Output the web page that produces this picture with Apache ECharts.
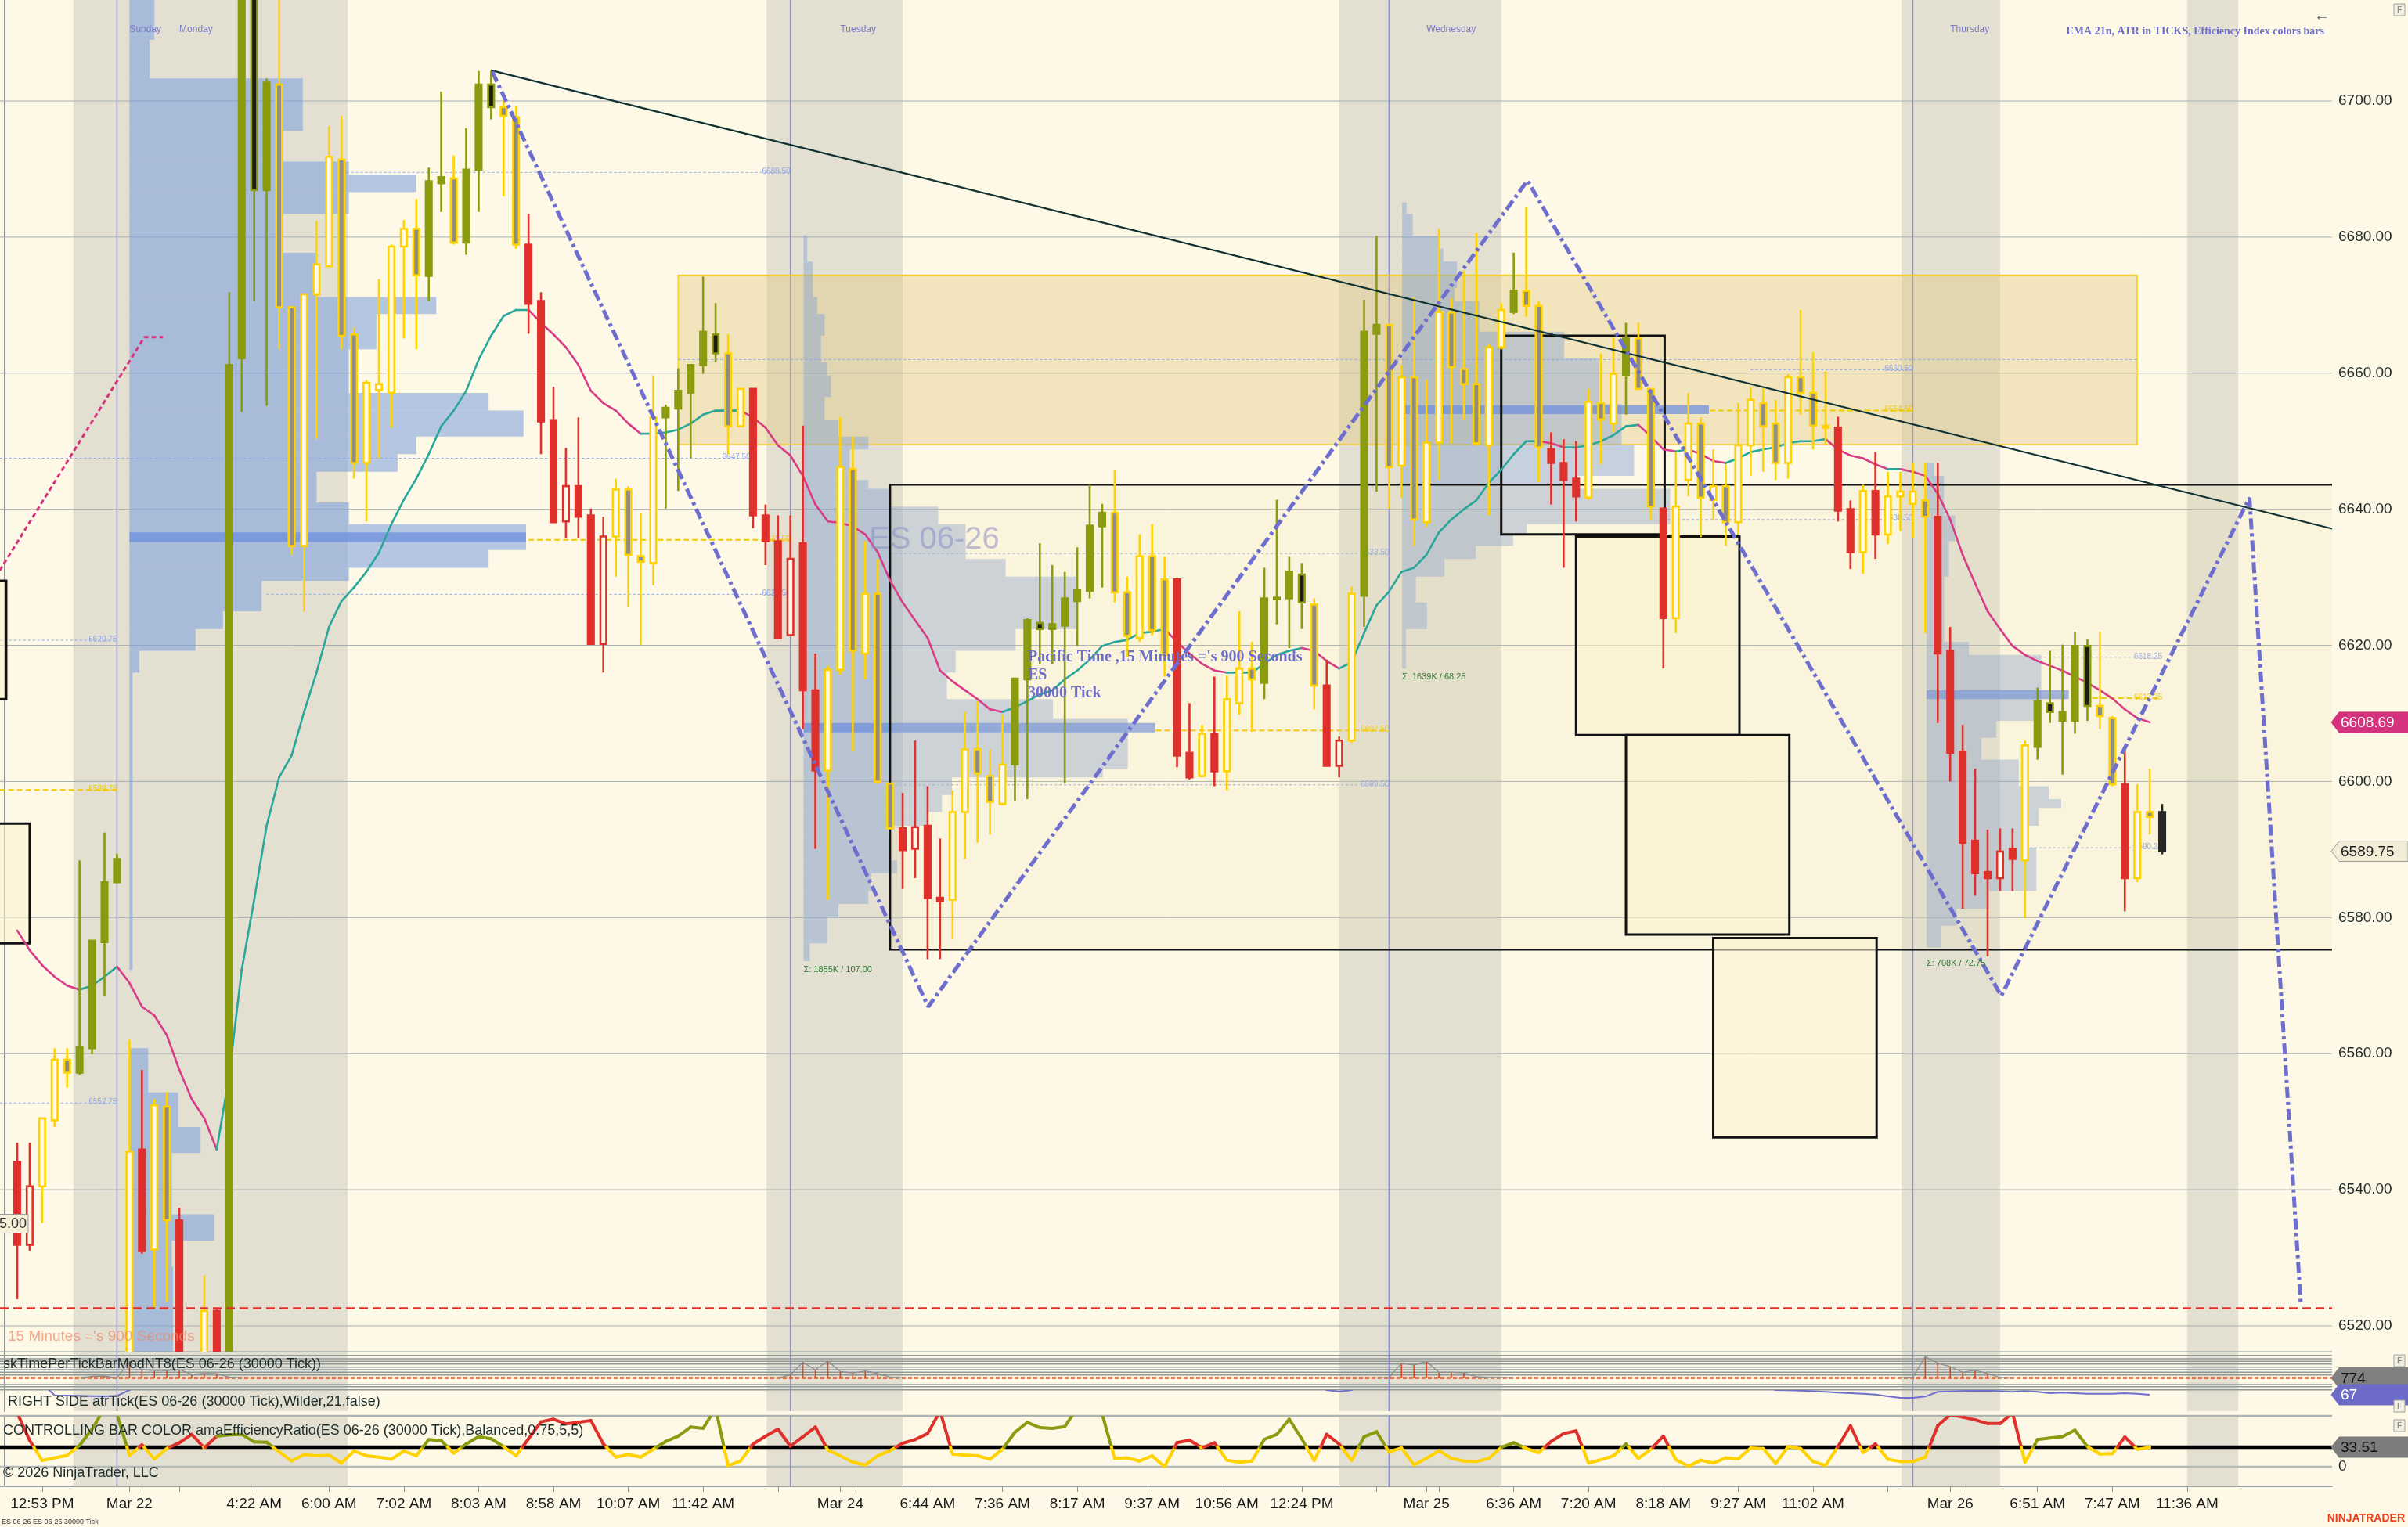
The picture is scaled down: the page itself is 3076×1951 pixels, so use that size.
<!DOCTYPE html>
<html>
<head>
<meta charset="utf-8">
<title>ES 06-26 30000 Tick</title>
<script src="https://cdn.jsdelivr.net/npm/echarts@6.0.0/dist/echarts.min.js"></script>
<style>
html,body{margin:0;padding:0;background:#FEF8E6;overflow:hidden}
#chart{width:3076px;height:1951px}
</style>
</head>
<body>
<div id="chart"></div>
<script>
// ================= DATA =================
const firstSlot = 1;
const barCodes = ("RRYYYGGGGY"+"RYYRRYRGGG"+"GYYYYYYYYY"+"YYYGGYGGGY"+"YRRRRRRRYY"+
  "YYGGGGGYYR"+"RRRRRYYYYY"+"YRRRRYYYYY"+"GGGGGGGGYY"+"YYYRRYRYYY"+
  "GGGGYRRYGG"+"YYYYYYYYYY"+"GYYRRRYYYG"+"YYRYYYYYYY"+"YYYYYYRRYR"+
  "YYYYRRRRRR"+"RYGGGGGYYR"+"YYK").split('');

const opens = [
6544.1,6531.9,6540.5,6550.2,6559.1,6557.2,6560.8,6576.4,6585.2,6512,
6545.9,6531.2,6552.2,6535.5,6512,6508,6522.2,6505,6662.2,6728,
6686.9,6702.4,6669.7,6634.6,6671.6,6675.7,6691.4,6665.7,6646.8,6657.5,
6657.1,6678.6,6681.2,6674.3,6687.9,6688.6,6679.2,6689.9,6702.4,6699.1,
6697.6,6678.9,6670.6,6653.1,6638.2,6643.4,6639.1,6620.2,6636.0,6642.9,
6633.1,6632.1,6653.5,6654.8,6657.1,6661.2,6665.7,6662.9,6652.2,6657.7,
6639.1,6635.3,6621.5,6635.0,6613.4,6601.6,6616.4,6645.9,6618.8,6627.6,
6599.7,6593.1,6590.1,6593.5,6582.9,6582.6,6595.5,6604.7,6600.8,6596.7,
6602.5,6615.0,6623.3,6622.4,6622.9,6626.5,6628.0,6637.5,6639.5,6627.8,
6621.1,6633.1,6629.7,6629.7,6604.2,6600.8,6607.0,6601.5,6611.5,6616.6,
6614.5,6626.8,6626.9,6630.4,6626.0,6614.1,6602.3,6606.0,6627.3,6665.8,
6667.1,6646.4,6659.4,6638.1,6649.8,6668.9,6660.6,6658.4,6649.4,6663.8,
6669.0,6672.1,6669.9,6648.8,6646.8,6644.5,6641.7,6655.6,6652.6,6659.7,
6665.1,6657.7,6640.1,6624.0,6644.3,6652.6,6641.4,6643.4,6638.1,6649.4,
6655.6,6652.6,6646.8,6659.4,6657.1,6652.3,6652.0,6640.0,6633.7,6642.7,
6636.3,6641.9,6640.8,6641.3,6638.9,6619.2,6604.4,6591.3,6586.7,6585.8,
6590.1,6588.4,6605.1,6611.5,6608.9,6608.9,6619.9,6611.1,6609.3,6599.6,
6585.8,6595.5,6595.5];
const highs = [
6546.9,6546.9,6550.5,6560.8,6560.8,6588.4,6576.6,6592.5,6589.4,6562.0,
6557.6,6553.3,6554.4,6537.3,6515,6527.4,6522.5,6671.9,6728,6732,
6703.3,6720,6669.7,6671.6,6682.4,6696.3,6697.8,6666.7,6659.0,6673.8,
6678.9,6682.5,6685.6,6690.2,6701.4,6692.0,6696.0,6704.4,6704.4,6700.1,
6699.2,6683.4,6671.9,6658.0,6649.0,6653.5,6640.1,6638.9,6644.5,6643.4,
6639.4,6659.7,6655.4,6660.7,6661.2,6674.2,6670.3,6665.7,6657.7,6657.7,
6640.7,6639.1,6639.1,6652.3,6618.8,6617.0,6653.5,6650.7,6635.3,6632.7,
6599.7,6598.3,6606.0,6599.3,6591.6,6598.7,6610.2,6611.8,6604.7,6609.8,
6615.1,6624.0,6635.0,6631.8,6630.8,6634.4,6643.6,6640.8,6645.8,6630.1,
6636.3,6637.8,6633.0,6629.9,6611.5,6608.3,6615.4,6615.6,6625.0,6620.5,
6631.4,6641.4,6633.0,6632.1,6626.9,6617.9,6606.6,6628.6,6670.8,6680.2,
6667.1,6661.2,6671.2,6659.0,6681.2,6671.0,6675.1,6680.6,6664.2,6670.3,
6677.7,6684.5,6670.6,6651.3,6650.3,6650.0,6657.7,6662.9,6665.2,6667.4,
6667.4,6657.7,6640.1,6648.4,6657.1,6653.5,6648.8,6646.6,6655.6,6658.0,
6658.0,6656.1,6659.9,6669.3,6663.1,6660.3,6653.6,6641.3,6643.6,6648.4,
6645.5,6645.5,6646.8,6646.8,6646.8,6622.7,6608.3,6601.9,6592.9,6593.1,
6593.1,6606.0,6613.8,6619.2,6620.1,6622.0,6620.9,6622.0,6609.6,6604.7,
6599.6,6601.9,6596.7];
const lows = [
6523.9,6531.0,6535.1,6549.2,6555.0,6556.9,6559.9,6568.5,6585.0,6508,
6530.6,6522.6,6523.5,6508,6496,6500,6498,6500,6654.3,6670.6,
6655.2,6663.5,6633.3,6625.0,6650.3,6675.7,6663.5,6644.5,6638.2,6647.5,
6652.0,6665.1,6663.5,6670.6,6683.7,6678.9,6677.4,6683.7,6697.3,6686.0,
6678.3,6665.8,6648.1,6638.1,6635.7,6635.7,6620.2,6616.0,6630.1,6625.6,
6620.1,6628.8,6640.1,6642.7,6647.5,6659.9,6661.6,6648.1,6652.2,6637.2,
6631.8,6620.9,6621.5,6607.7,6590.1,6582.6,6615.7,6604.4,6615.0,6599.7,
6593.1,6584.2,6585.8,6573.9,6573.9,6576.8,6588.6,6591.0,6592.2,6596.5,
6597.1,6597.4,6617.3,6617.3,6599.7,6619.9,6626.9,6628.5,6626.3,6618.3,
6620.5,6621.5,6615.4,6602.1,6600.3,6600.6,6599.3,6598.7,6609.8,6607.3,
6612.1,6623.1,6619.6,6622.4,6610.6,6602.3,6600.6,6605.7,6622.7,6642.6,
6640.1,6641.7,6634.6,6637.4,6644.3,6649.7,6653.2,6649.4,6639.1,6663.5,
6668.7,6668.3,6644.0,6640.7,6631.4,6638.2,6641.4,6646.6,6651.3,6653.9,
6657.5,6638.5,6616.6,6621.8,6641.9,6635.9,6638.5,6634.6,6636.3,6644.9,
6645.5,6644.3,6644.5,6653.9,6648.8,6649.4,6638.2,6631.2,6630.5,6632.7,
6634.9,6636.8,6635.7,6621.8,6608.6,6600.0,6581.3,6583.2,6574.3,6583.9,
6583.9,6580.0,6603.2,6608.6,6601.0,6607.0,6608.9,6607.7,6599.3,6580.9,
6585.2,6592.2,6589.3];
const closes = [
6531.9,6540.5,6550.5,6559.1,6557.2,6561.0,6576.6,6585.2,6588.6,6545.6,
6531.0,6552.4,6535.5,6512,6502,6522.2,6505,6661.2,6722,6686.9,
6702.7,6669.7,6634.6,6671.6,6676.0,6691.8,6665.5,6646.8,6658.6,6658.4,
6678.6,6681.2,6674.4,6688.2,6688.8,6679.2,6689.9,6702.4,6699.1,6697.8,
6678.9,6670.2,6652.9,6638.1,6643.4,6638.9,6620.2,6636.0,6642.9,6633.3,
6632.3,6653.5,6654.9,6657.4,6661.2,6666.1,6662.9,6652.2,6657.7,6639.1,
6635.3,6621.1,6632.7,6613.4,6601.6,6616.4,6646.2,6619.2,6627.6,6600.0,
6593.1,6589.9,6593.3,6582.9,6582.4,6595.5,6604.7,6601.2,6597.0,6602.5,
6615.1,6623.7,6622.4,6623.1,6626.9,6628.2,6637.6,6639.5,6627.8,6621.4,
6633.1,6622.2,6618.6,6603.8,6600.6,6607.0,6601.5,6612.1,6616.6,6615.0,
6626.9,6627.0,6630.8,6626.3,6614.1,6602.3,6606.0,6627.6,6666.1,6667.1,
6646.2,6659.4,6638.5,6649.8,6669.0,6660.9,6658.4,6649.7,6663.8,6669.3,
6672.1,6669.9,6649.1,6646.8,6644.3,6641.9,6655.8,6653.2,6659.9,6665.1,
6657.7,6640.4,6624.0,6640.4,6652.6,6641.7,6643.4,6638.1,6649.4,6656.1,
6652.2,6646.8,6659.4,6657.1,6652.3,6652.0,6639.8,6633.7,6642.7,6636.3,
6641.9,6642.6,6642.6,6638.9,6618.8,6604.2,6591.0,6586.5,6585.8,6589.7,
6588.6,6605.3,6611.8,6610.2,6610.2,6619.9,6611.1,6609.6,6599.6,6585.8,
6595.5,6594.8,6589.75];

const emaValues = [
6578.1,6575.2,6573.0,6571.3,6570.0,6569.4,6570.0,6571.3,6572.8,6570.4,
6566.9,6565.6,6562.7,6557.6,6553.3,6550.5,6545.9,6556.9,6572.3,6582.6,
6593.5,6600.6,6603.8,6610.2,6616.0,6622.7,6626.5,6628.5,6630.8,6633.6,
6637.8,6641.4,6644.5,6648.1,6652.2,6654.5,6657.4,6662.0,6665.5,6668.4,
6669.3,6669.3,6667.4,6665.7,6663.8,6661.2,6657.4,6655.6,6654.5,6652.6,
6651.1,6651.1,6651.3,6651.7,6652.6,6653.9,6654.5,6654.5,6654.5,6653.5,
6652.0,6649.4,6647.9,6644.9,6640.7,6638.2,6638.0,6637.5,6636.3,6633.7,
6629.5,6626.3,6623.7,6621.1,6616.3,6614.7,6613.4,6612.1,6610.6,6610.2,
6610.9,6611.8,6612.8,6613.4,6615.0,6616.3,6617.9,6619.9,6620.5,6620.8,
6621.8,6622.0,6622.4,6620.5,6618.8,6617.3,6616.3,6616.0,6616.0,6616.0,
6617.3,6618.6,6619.2,6619.6,6619.2,6617.7,6616.6,6617.5,6621.8,6625.9,
6627.9,6630.8,6631.4,6633.3,6636.6,6638.5,6640.0,6641.3,6643.9,6645.8,
6648.1,6650.0,6650.0,6649.7,6649.1,6649.1,6649.4,6650.0,6650.9,6652.2,
6652.4,6650.7,6648.8,6648.5,6648.8,6648.1,6647.1,6646.8,6647.5,6648.4,
6648.8,6649.1,6649.7,6650.0,6650.0,6650.3,6648.8,6647.9,6647.5,6646.6,
6645.9,6645.9,6645.5,6644.9,6642.3,6638.5,6633.3,6629.1,6625.0,6622.4,
6619.9,6618.6,6617.7,6617.0,6616.3,6615.4,6614.5,6613.4,6612.2,6610.6,
6609.3,6608.69];

const erValues = [
92,45,10.7,15,19.5,36.4,64.3,100,90,19.5,
37.4,13.4,31.3,41.1,55.4,32.2,52.3,54.5,55.4,42.4,
42,25.5,9.8,21,18.8,19.7,6.3,26.8,18.8,16.5,
12.9,26.8,18.8,46.5,44.7,23.3,38.9,51.5,47.9,34.5,
18.8,47.9,76.9,81.4,73.4,76,79.2,38.9,16.5,21,
16.5,29.9,43.3,52.3,67.9,65.7,100,1.8,9.8,38.9,
52.3,64.3,35.2,51.3,67.9,28.6,18.8,7.6,3.1,18.8,
27.7,40.2,46.5,56.8,95,21.9,19.7,18.8,12.9,29.9,
59,76,67,65.7,68.8,100,105,90,14.3,15.2,
9.8,18.8,0,41.1,45.6,32.2,41.1,11.2,7.6,9.8,
46.9,55.4,81.4,47.9,10.7,55.4,38.9,10.7,51.3,59.9,
25.5,32.2,3.1,14.3,27.7,14.3,9.8,8.9,14.3,33.1,
41.1,31.3,24.1,43.3,56.8,61.2,6.3,12,18.8,38.9,
14.3,29.9,52.3,12,0.9,11.2,6.3,15.2,13.4,32.2,
31.3,5.4,34.5,31.3,8.9,2.2,34.5,70.3,24.1,38.9,
12.9,8.9,8.9,16.5,70.3,89,85.1,80.2,73.9,73.9,
92,7.6,46.5,49.2,51.5,62.6,34.5,21.9,22.3,50.9,
29.9,33.1];
const erThreshold = 33.51;

const atrSegments = [
  [[3,95],[4,65.7],[5,65],[6,64.5],[7,63.5],[8,63],[9,64.3],[10,79],[11,95]],
  [[105,95],[106,79],[107,75],[108,79],[109,95]],
  [[141,90],[142,79],[143,78.5],[144,77.7],[145,76],[146,74.3],[147,72.7],[148,71],[149,69.4],[150,67.7],
   [151,63],[152,59],[153,59],[154,62.3],[155,74.3],[156,75.7],[157,76.3],[158,77],[159,77.7],[160,76],
   [161,74.3],[162,76.3],[163,74.3],[164,71],[165,72.7],[166,71],[167,69.7],[168,69.7],[169,69.7],[170,71],
   [171,69.7],[172,67]]
];
const atrLast = 67;

const skBaseline = 774;
const skGroups = [
  [[6,774],[7,880],[8,900],[9,774],[10,1850],[11,1300],[12,1250],[13,1250],[14,1300],[15,1000],[16,1050],[17,1050],[18,830],[19,774]],
  [[62,774],[63,967],[64,1767],[65,1300],[66,1850],[67,1183],[68,1083],[69,1217],[70,1050],[71,833],[72,774]],
  [[110,774],[111,800],[112,1717],[113,1600],[114,1833],[115,1133],[116,1133],[117,1100],[118,850],[119,800],[120,800],[121,774]],
  [[152,774],[153,833],[154,2133],[155,1717],[156,1500],[157,1133],[158,1267],[159,1050],[160,800],[161,774]]
];
const skLevels = [2435,2215,2000,1835,1665,1465,1300,1135,965,350,215,15];

const priceTicks = [6520,6540,6560,6580,6600,6620,6640,6660,6680,6700];
const timeLabelSlots = [3,10,20,26,32,38,44,50,56,67,74,80,86,92,98,104,114,121,127,133,139,145,156,163,169,175];
const timeLabels = ['12:53 PM','Mar 22','4:22 AM','6:00 AM','7:02 AM','8:03 AM','8:58 AM','10:07 AM','11:42 AM',
  'Mar 24','6:44 AM','7:36 AM','8:17 AM','9:37 AM','10:56 AM','12:24 PM','Mar 25','6:36 AM','7:20 AM','8:18 AM',
  '9:27 AM','11:02 AM','Mar 26','6:51 AM','7:47 AM','11:36 AM'];
const extraTickSlots = [9,11,14,62,68,110,115,151,157];

const sessionBands = [[5.5,27.5],[61.1,72],[107,120],[152.1,160],[175,179.1]];
const sessionLines = [9,63,111,153];
const dayNames = [['Sunday',10],['Monday',14],['Tuesday',67],['Wednesday',114],['Thursday',156]];

const zoneRect = [54,171,6674.4,6649.5];
const zoneMid = 6662;

const profile1Anchor = 10;
const profile1Rows = [[6716,6709,2.0],[6709,6703.3,1.6],[6703.3,6695.6,13.9],[6695.6,6691.1,12],[6691.1,6689.2,17.6],
 [6689.2,6686.6,23],[6686.6,6683.4,17.6],[6683.4,6677.7,12],[6677.7,6671.2,15],[6671.2,6668.7,24.6],[6668.7,6663.5,19.8],
 [6663.5,6657.1,17.6],[6657.1,6654.5,28.8],[6654.5,6650.7,31.6],[6650.7,6648.1,23],[6648.1,6645.5,21.5],[6645.5,6641,15],
 [6641,6637.8,17.6],[6637.8,6634,31.8],[6634,6631.4,28.8],[6631.4,6629.5,17.6],[6629.5,6625,10.6],[6625,6622.4,7.5],
 [6622.4,6619.2,5.3],[6619.2,6616,0.8],[6616,6572.3,0.25],[6560.8,6554.3,1.5],[6554.3,6549.2,3.9],[6549.2,6545.4,5.7],
 [6545.4,6536.4,3.4],[6536.4,6532.5,6.8],[6532.5,6528.7,3.4],[6528.7,6500,3.5]];
const profile1Poc = [6636.6,6635.2,31.8];

const profile2Anchor = 64.05;
const profile2Rows = [[6680.3,6676.4,0.3],[6676.4,6671.2,0.75],[6671.2,6668.7,1.1],[6668.7,6665.5,1.7],[6665.5,6661.6,1.4],
 [6661.6,6659.7,1.9],[6659.7,6656.5,2.2],[6656.5,6653.2,1.7],[6653.2,6650.7,2.8],[6650.7,6648.8,5.2],[6648.8,6644.3,3.7],
 [6644.3,6643.0,5.2],[6643.0,6640.4,6.9],[6640.4,6637.8,10.8],[6637.8,6632.7,13],[6632.7,6630.1,16.2],[6630.1,6622.4,22],
 [6622.4,6619.2,17],[6619.2,6616.0,12.2],[6616.0,6612.1,11.5],[6612.1,6609.2,20],[6609.2,6606.6,26],[6606.6,6601.9,26],
 [6601.9,6600.6,24],[6600.6,6598.0,11.9],[6598.0,6595.5,11.1],[6595.5,6593.5,9.9],[6593.5,6591.6,6.8],[6591.6,6588.4,6.9],
 [6588.4,6586.5,7.5],[6586.5,6583.9,5.4],[6583.9,6582.0,5.2],[6582.0,6580.0,2.8],[6580.0,6576.2,1.9],[6576.2,6573.6,0.5]];
const profile2Poc = [6608.6,6607.2,28.2];

const profile3Anchor = 112.05;
const profile3Rows = [[6685.1,6683.4,0.35],[6683.4,6680.2,0.85],[6680.2,6678.3,2.9],[6678.3,6676.4,3.3],[6676.4,6672.5,4.4],
 [6672.5,6670.6,4.2],[6670.6,6666.1,6.2],[6666.1,6662.2,13],[6662.2,6655.5,15.8],[6655.5,6654.5,17.6],[6654.5,6649.4,17.6],
 [6649.4,6644.9,18.6],[6644.9,6643.0,14],[6643.0,6637.8,21.5],[6637.8,6636.3,10],[6636.3,6634.6,8.9],[6634.6,6632.7,5.9],
 [6632.7,6630.1,3.4],[6630.1,6626.3,1.1],[6626.3,6622.4,2],[6622.4,6616.6,0.3]];
const profile3Poc = [6655.3,6654.0,24.6];

const profile4Anchor = 154.1;
const profile4Rows = [[6646.8,6644.9,0.6],[6644.9,6639.1,1.4],[6639.1,6635.3,2.3],[6635.3,6630.1,1.8],[6630.1,6620.5,1.4],
 [6620.5,6618.6,3.4],[6618.6,6613.4,9.2],[6613.4,6612.1,9.2],[6612.1,6608.9,9.2],[6608.9,6606.4,5.6],[6606.4,6603.2,4.4],
 [6603.2,6599.3,7.4],[6599.3,6597.4,9.8],[6597.4,6596.1,10.8],[6596.1,6593.5,9],[6593.5,6590.3,8.2],[6590.3,6583.9,8.8],
 [6583.9,6581.3,5],[6581.3,6578.8,2.4],[6578.8,6575.6,1.2]];
const profile4Poc = [6613.4,6612.1,11.4];

const profileNotes = [[64.05,6572.3,'\u03a3: 1855K / 107.00'],[112.05,6615.3,'\u03a3: 1639K / 68.25'],[154.1,6573.3,'\u03a3: 708K / 72.75']];

const levelLines = [
 [6620.75,-0.4,9,'b'],[6552.75,-0.4,9,'b'],[6598.75,-0.4,9,'y'],
 [6689.50,27.4,63,'b'],[6647.50,-0.4,59.8,'b'],[6627.50,21,63,'b'],[6635.50,42,63,'y'],
 [6633.50,71,111,'b'],[6607.50,92.3,111,'y'],[6599.50,71,111,'b'],
 [6660.50,140,153,'b'],[6654.50,136.7,153,'y'],[6638.50,133,153,'b'],
 [6618.25,162,173,'b'],[6612.25,166.7,173,'y'],[6590.25,162,173,'b']
];

// rectangles: [x0 slot, x1 slot, top price, bottom price, kind]
const boxes = [
 [71,190,6643.6,6575.3,'soft'],
 [120,133.1,6665.5,6636.3,'none'],
 [126,139.1,6636.0,6606.8,'cream'],
 [130,143.1,6606.8,6577.5,'cream'],
 [137,150.1,6577.0,6547.7,'cream'],
 [-3,0.12,6629.5,6612.1,'cream'],
 [-3,2.0,6593.8,6576.2,'cream']
];

const trendLine = [[39,6704.5],[186.62,6637.14]];
const zigzag = [[39.1,6704.3],[74.05,6566.9],[122.1,6688.3],[160.1,6568.5],[180.0,6641.7],[184.1,6523.5]];
const pinkDash = [[-0.4,6631],[11.2,6665.3],[12.7,6665.3]];
const redDashLevel = 6522.6;
const emaLast = 6608.69;
const lastPrice = 6589.75;
const leftTagPrice = 6535.00;

// ================= STYLE / LAYOUT =================
const XMIN = -0.381, XMAX = 186.62;
const CREAM = '#FEF8E6';
const CAND = {R:'#E0302C', G:'#8A9B0F', Y:'#FFD200', K:'#262626'};
const ERC = {R:'#E0302C', G:'#8A9B0F', Y:'#FFD200', K:'#FFD200'};
const FONT = 'Liberation Sans, Arial, sans-serif';
const SERIF = 'Liberation Serif, DejaVu Serif, serif';

const GRID_R = 2979;
const grids = [
  {left:0, top:0, width:GRID_R, height:1727},
  {left:0, top:1727, width:GRID_R, height:49},
  {left:0, top:1776, width:GRID_R, height:27},
  {left:0, top:1809, width:GRID_R, height:90}
];

const candleData = [];
const nC = Math.min(opens.length, highs.length, lows.length, closes.length, barCodes.length);
for (let i = 0; i < nC; i++) candleData.push([firstSlot + i, opens[i], highs[i], lows[i], closes[i]]);
const emaData = emaValues.map((v, i) => [firstSlot + i, v]);
const erData = erValues.map((v, i) => [firstSlot + i, v]);

const profileData = [];
function addProfile(anchor, rows, poc, pi) {
  rows.forEach(r => profileData.push([anchor, r[0], r[1], r[2], 0, pi]));
  profileData.push([anchor, poc[0], poc[1], poc[2], 1, pi]);
}
addProfile(profile1Anchor, profile1Rows, profile1Poc, 1);
addProfile(profile2Anchor, profile2Rows, profile2Poc, 2);
addProfile(profile3Anchor, profile3Rows, profile3Poc, 3);
addProfile(profile4Anchor, profile4Rows, profile4Poc, 4);

function bandSeries(gi) {
  return {
    type:'custom', xAxisIndex:gi, yAxisIndex:gi, z:1, silent:true, clip:true,
    data: sessionBands.map(b => [b[0], b[1]]),
    renderItem(params, api) {
      const cs = params.coordSys;
      const x0 = api.coord([api.value(0), 0])[0], x1 = api.coord([api.value(1), 0])[0];
      return {type:'rect', shape:{x:x0, y:cs.y, width:x1 - x0, height:cs.height}, style:{fill:'#E3E0D2'}};
    }
  };
}
function vlineSeries(gi) {
  return {
    type:'custom', xAxisIndex:gi, yAxisIndex:gi, z:3, silent:true, clip:true,
    data: sessionLines.map(s => [s]),
    renderItem(params, api) {
      const cs = params.coordSys;
      const x = api.coord([api.value(0), 0])[0];
      return {type:'line', shape:{x1:x, y1:cs.y, x2:x, y2:cs.y + cs.height}, style:{stroke:'#8C8CD6', lineWidth:1.5}};
    }
  };
}
function hlineSeries(gi, values, color, width, z, dash) {
  return {
    type:'custom', xAxisIndex:gi, yAxisIndex:gi, z:z, silent:true, clip:false,
    data: values.map(v => [0, v]),
    renderItem(params, api) {
      const cs = params.coordSys;
      const y = api.coord([0, api.value(1)])[1];
      return {type:'line', shape:{x1:cs.x, y1:y, x2:cs.x + cs.width, y2:y},
              style:{stroke:color, lineWidth:width, lineDash:dash || null}};
    }
  };
}

function candleItem(params, api) {
  const i = params.dataIndex;
  const x = api.value(0), o = api.value(1), h = api.value(2), l = api.value(3), c = api.value(4);
  const code = barCodes[i];
  const col = CAND[code];
  const up = c > o;
  let fill;
  if (code === 'R') fill = up ? CREAM : col;
  else if (code === 'Y') fill = up ? CREAM : '#8E8C84';
  else if (code === 'G') fill = up ? col : '#1C1C10';
  else fill = '#262626';
  const pH = api.coord([x, h]), pL = api.coord([x, l]), pO = api.coord([x, o]), pC = api.coord([x, c]);
  const w = 7.5;
  const top = Math.min(pO[1], pC[1]);
  const ht = Math.max(Math.abs(pO[1] - pC[1]), 2);
  return {type:'group', children:[
    {type:'line', shape:{x1:pH[0], y1:pH[1], x2:pL[0], y2:pL[1]}, style:{stroke:col, lineWidth:2.6}},
    {type:'rect', shape:{x:pO[0] - w / 2, y:top, width:w, height:ht}, style:{fill:fill, stroke:col, lineWidth:2.6}}
  ]};
}

function emaItem(params, api) {
  const i = params.dataIndex;
  if (i === 0) return {type:'group', children:[]};
  const p0 = api.coord([firstSlot + i - 1, emaValues[i - 1]]);
  const p1 = api.coord([firstSlot + i, emaValues[i]]);
  const rising = emaValues[i] >= emaValues[i - 1];
  return {type:'line', shape:{x1:p0[0], y1:p0[1], x2:p1[0], y2:p1[1]},
          style:{stroke: rising ? '#2AA69A' : '#D83C86', lineWidth:2.6, lineCap:'round'}};
}

function erItem(params, api) {
  const i = params.dataIndex;
  if (i === 0) return {type:'group', children:[]};
  const v0 = erValues[i - 1], v1 = erValues[i];
  const p0 = api.coord([firstSlot + i - 1, v0]);
  const p1 = api.coord([firstSlot + i, v1]);
  const c1 = barCodes[i], c0 = barCodes[i - 1];
  const hiCol = (c1 === 'R' || c1 === 'G') ? ERC[c1] : ((c0 === 'R' || c0 === 'G') ? ERC[c0] : ERC.Y);
  const colFor = v => v >= erThreshold ? hiCol : ERC.Y;
  const seg = (a, b, col) => ({type:'line', shape:{x1:a[0], y1:a[1], x2:b[0], y2:b[1]}, style:{stroke:col, lineWidth:4, lineCap:'round'}});
  const T = erThreshold;
  if ((v0 - T) * (v1 - T) < 0) {
    const t = (T - v0) / (v1 - v0);
    const pm = [p0[0] + t * (p1[0] - p0[0]), p0[1] + t * (p1[1] - p0[1])];
    return {type:'group', children:[seg(p0, pm, colFor(v0)), seg(pm, p1, colFor(v1))]};
  }
  return seg(p0, p1, colFor((v0 + v1) / 2));
}

function profileItem(params, api) {
  const a = api.value(0), hi = api.value(1), lo = api.value(2), w = api.value(3), poc = api.value(4), pi = api.value(5);
  const p0 = api.coord([a, hi]), p1 = api.coord([a + w, lo]);
  let fill = pi === 1 ? 'rgba(120,156,222,0.55)' : 'rgba(132,162,212,0.45)';
  if (poc === 1) fill = 'rgba(104,140,222,0.7)';
  return {type:'rect', shape:{x:p0[0], y:p0[1], width:Math.max(p1[0] - p0[0], 1.5), height:Math.max(p1[1] - p0[1], 1)}, style:{fill:fill}};
}

function levelItem(params, api) {
  const i = params.dataIndex;
  const lv = levelLines[i];
  const p0 = api.coord([lv[1], lv[0]]), p1 = api.coord([lv[2], lv[0]]);
  const yellow = lv[3] === 'y';
  const col = yellow ? '#F2C800' : '#8FA8E6';
  return {type:'group', children:[
    {type:'line', shape:{x1:p0[0], y1:p0[1], x2:p1[0], y2:p1[1]},
     style:{stroke:col, lineWidth: yellow ? 2 : 1, lineDash: yellow ? [7,4] : [3,3]}},
    {type:'text', x:p1[0], y:p0[1] - 1, style:{text:lv[0].toFixed(2), fill:col, font:'10px ' + FONT, align:'right', verticalAlign:'middle', textAlign:'right', textVerticalAlign:'middle'}}
  ]};
}

function boxItem(params, api) {
  const b = boxes[params.dataIndex];
  const p0 = api.coord([b[0], b[2]]), p1 = api.coord([b[1], b[3]]);
  let fill = null, lw = 3;
  if (b[4] === 'soft') { fill = 'rgba(236,220,160,0.14)'; lw = 2.4; }
  if (b[4] === 'cream') fill = 'rgba(250,242,205,0.55)';
  return {type:'rect', shape:{x:p0[0], y:p0[1], width:p1[0] - p0[0], height:p1[1] - p0[1]},
          style:{fill:fill || 'rgba(0,0,0,0)', stroke:'#111111', lineWidth:lw}};
}

const option = {
  animation:false,
  backgroundColor: CREAM,
  grid: grids,
  xAxis: grids.map((g, gi) => ({
    type:'value', gridIndex:gi, min:XMIN, max:XMAX, show: gi === 3,
    splitLine:{show:false},
    axisLine:{show: gi === 3, onZero:false, lineStyle:{color:'#9AA2A2', width:2}},
    axisTick:{show: gi === 3, customValues: timeLabelSlots.concat(extraTickSlots), length:7, lineStyle:{color:'#8A9090', width:1}},
    axisLabel:{show: gi === 3, customValues: timeLabelSlots, margin:13, fontSize:19, fontFamily:FONT, color:'#1A1A1A',
      formatter: v => { const k = timeLabelSlots.indexOf(Math.round(v)); return k >= 0 ? timeLabels[k] : ''; }}
  })),
  yAxis: [
    {type:'value', gridIndex:0, position:'right', min:6516.2, max:6714.84, splitLine:{show:false},
     axisLine:{show:true, lineStyle:{color:'#8F9696', width:2}}, axisTick:{show:false},
     axisLabel:{customValues: priceTicks, margin:8, fontSize:19, fontFamily:FONT, color:'#1F2A2A', formatter: v => v.toFixed(2)}},
    {type:'value', gridIndex:1, position:'right', min:0, max:2450, splitLine:{show:false},
     axisLine:{show:true, lineStyle:{color:'#8F9696', width:2}}, axisTick:{show:false}, axisLabel:{show:false}},
    {type:'value', gridIndex:2, position:'right', min:25, max:79, splitLine:{show:false},
     axisLine:{show:true, lineStyle:{color:'#8F9696', width:2}}, axisTick:{show:false}, axisLabel:{show:false}},
    {type:'value', gridIndex:3, position:'right', min:-33.5, max:87.1, splitLine:{show:false},
     axisLine:{show:true, lineStyle:{color:'#8F9696', width:2}}, axisTick:{show:false},
     axisLabel:{customValues:[0], margin:8, fontSize:19, fontFamily:FONT, color:'#1F2A2A', formatter: v => '0'}}
  ],
  series: [
    // ---- main panel ----
    bandSeries(0),
    hlineSeries(0, priceTicks, '#A6AEB2', 1, 2),
    vlineSeries(0),
    {type:'custom', xAxisIndex:0, yAxisIndex:0, z:4, silent:true, clip:true, data:[zoneRect],
     renderItem(params, api) {
       const p0 = api.coord([api.value(0), api.value(2)]), p1 = api.coord([api.value(1), api.value(3)]);
       const pm0 = api.coord([api.value(0), zoneMid]);
       return {type:'group', children:[
         {type:'rect', shape:{x:p0[0], y:p0[1], width:p1[0] - p0[0], height:p1[1] - p0[1]},
          style:{fill:'rgba(222,196,115,0.35)', stroke:'#F2CE2A', lineWidth:1.5}},
         {type:'line', shape:{x1:p0[0], y1:pm0[1], x2:p1[0], y2:pm0[1]}, style:{stroke:'#8FA8E6', lineWidth:1, lineDash:[3,3]}}
       ]};
     }},
    {type:'custom', xAxisIndex:0, yAxisIndex:0, z:5, silent:true, clip:true, data:profileData, renderItem:profileItem},
    {type:'custom', xAxisIndex:0, yAxisIndex:0, z:6, silent:true, clip:true, data:levelLines.map(l => [l[1], l[0]]), renderItem:levelItem},
    {type:'custom', xAxisIndex:0, yAxisIndex:0, z:7, silent:true, clip:true, data:boxes.map(b => [b[0], b[2]]), renderItem:boxItem},
    {type:'custom', xAxisIndex:0, yAxisIndex:0, z:8, silent:true, clip:true, data:emaData, renderItem:emaItem},
    {type:'custom', xAxisIndex:0, yAxisIndex:0, z:9, silent:true, clip:true, data:candleData, renderItem:candleItem},
    {type:'line', xAxisIndex:0, yAxisIndex:0, z:10, silent:true, symbol:'none', data:trendLine,
     lineStyle:{color:'#0F3232', width:2.2}},
    {type:'line', xAxisIndex:0, yAxisIndex:0, z:11, silent:true, symbol:'none', data:zigzag,
     lineStyle:{color:'#6E6ECF', width:5, type:[14,5,4,5]}},
    {type:'line', xAxisIndex:0, yAxisIndex:0, z:10, silent:true, symbol:'none', data:[[XMIN, redDashLevel],[XMAX, redDashLevel]],
     lineStyle:{color:'#E0302C', width:2.2, type:[11,6]}},
    {type:'line', xAxisIndex:0, yAxisIndex:0, z:10, silent:true, symbol:'none', data:pinkDash,
     lineStyle:{color:'#D6337F', width:3, type:[6,4]}},
    {type:'custom', xAxisIndex:0, yAxisIndex:0, z:12, silent:true, clip:false, data:profileNotes.map(n => [n[0], n[1]]),
     renderItem(params, api) {
       const p = api.coord([api.value(0), api.value(1)]);
       return {type:'text', x:p[0], y:p[1], style:{text:profileNotes[params.dataIndex][2], fill:'#2F7A34', font:'11px ' + FONT, verticalAlign:'middle', textVerticalAlign:'middle'}};
     }},
    // ---- panel 1 : time per tick ----
    bandSeries(1),
    vlineSeries(1),
    hlineSeries(1, skLevels, '#8F9A9A', 1.6, 2),
    hlineSeries(1, [skBaseline], '#E0541E', 2.6, 4, [5,3]),
    {type:'custom', xAxisIndex:1, yAxisIndex:1, z:5, silent:true, clip:true, data:skGroups.map((g, i) => [i]),
     renderItem(params, api) {
       const grp = skGroups[params.dataIndex];
       const pts = grp.map(p => api.coord([p[0], p[1]]));
       const base = api.coord([0, skBaseline])[1];
       const children = [];
       grp.forEach((p, k) => { if (p[1] > 820) children.push({type:'line', shape:{x1:pts[k][0], y1:base, x2:pts[k][0], y2:pts[k][1]}, style:{stroke:'#D9461E', lineWidth:1.6}}); });
       children.push({type:'polyline', shape:{points:pts}, style:{stroke:'#8E8E8E', lineWidth:1.3, fill:null}});
       return {type:'group', children};
     }},
    // ---- panel 2 : ATR ----
    bandSeries(2),
    vlineSeries(2),
    {type:'custom', xAxisIndex:2, yAxisIndex:2, z:5, silent:true, clip:true, data:atrSegments.map((s, i) => [i]),
     renderItem(params, api) {
       const pts = atrSegments[params.dataIndex].map(p => api.coord([p[0], p[1]]));
       return {type:'polyline', shape:{points:pts}, style:{stroke:'#6F6FCB', lineWidth:2, fill:null}};
     }},
    // ---- panel 3 : efficiency ----
    bandSeries(3),
    vlineSeries(3),
    hlineSeries(3, [87.1], '#AEB4B2', 2.5, 2),
    hlineSeries(3, [0], '#B5BAB6', 2.5, 2),
    hlineSeries(3, [erThreshold], '#000000', 4.5, 4),
    {type:'custom', xAxisIndex:3, yAxisIndex:3, z:6, silent:true, clip:true, data:erData, renderItem:erItem}
  ]
};

const chart = echarts.init(document.getElementById('chart'), null, {renderer:'canvas'});
chart.setOption(option);

// ---- texts, tags ----
const px = v => chart.convertToPixel({xAxisIndex:0}, v);
const py = (ax, v) => chart.convertToPixel({yAxisIndex:ax}, v);
function txt(x, y, s, font, fill, align, z) {
  return {type:'text', x:x, y:y, z:z || 50, silent:true,
    style:{text:s, font:font, fill:fill, align:align || 'left', verticalAlign:'middle', textAlign:align || 'left', textVerticalAlign:'middle'}};
}
function tag(y, label, fill, stroke, color) {
  const x0 = GRID_R - 1, h = 13;
  return [
    {type:'polygon', z:60, silent:true, shape:{points:[[x0, y],[x0 + 10, y - h],[3076, y - h],[3076, y + h],[x0 + 10, y + h]]},
     style:{fill:fill, stroke:stroke || fill, lineWidth:1}},
    txt(x0 + 12, y + 1, label, '19px ' + FONT, color, 'left', 61)
  ];
}
const gfx = [];
dayNames.forEach(d => gfx.push(txt(px(d[1]), 38, d[0], '12px ' + FONT, '#7B7BC9')));
gfx.push(txt(2969, 40, 'EMA 21n, ATR in TICKS, Efficiency Index colors bars', 'bold 14px ' + SERIF, '#6E6EC8', 'right'));
gfx.push(txt(2966, 20, '\u2190', '20px ' + FONT, '#5A6468', 'center'));
gfx.push(txt(1110, 690, 'ES 06-26', '40px ' + FONT, 'rgba(140,140,195,0.55)'));
gfx.push(txt(1313, 840, "Pacific Time ,15 Minutes ='s 900 Seconds", 'bold 20px ' + SERIF, '#6E6EC8'));
gfx.push(txt(1313, 863, 'ES', 'bold 20px ' + SERIF, '#6E6EC8'));
gfx.push(txt(1313, 886, '30000 Tick', 'bold 20px ' + SERIF, '#6E6EC8'));
gfx.push(txt(10, 1708, "15 Minutes ='s 900 Seconds", '19px ' + FONT, 'rgba(236,140,108,0.75)'));
gfx.push(txt(4, 1743, 'skTimePerTickBarModNT8(ES 06-26 (30000 Tick))', '18px ' + FONT, '#1B2B2B'));
gfx.push(txt(10, 1791, 'RIGHT SIDE atrTick(ES 06-26 (30000 Tick),Wilder,21,false)', '18px ' + FONT, '#1B2B2B'));
gfx.push(txt(4, 1828, 'CONTROLLING BAR COLOR amaEfficiencyRatio(ES 06-26 (30000 Tick),Balanced,0.75,5,5)', '18px ' + FONT, '#1B2B2B'));
gfx.push(txt(4, 1882, '\u00a9 2026 NinjaTrader, LLC', '18px ' + FONT, '#1B2B2B'));
gfx.push(txt(2, 1945, 'ES 06-26 ES 06-26 30000 Tick', '9px ' + FONT, '#333333'));
gfx.push(txt(3072, 1940, 'NINJATRADER', 'bold 14px ' + FONT, '#E8431E', 'right'));
// left clipped price tag
const yl = py(0, leftTagPrice);
gfx.push({type:'rect', z:55, silent:true, shape:{x:-40, y:yl - 12, width:76, height:24}, style:{fill:'#F6EFD8', stroke:'#9A9A9A', lineWidth:1}});
gfx.push(txt(34, yl, leftTagPrice.toFixed(2), '18px ' + FONT, '#333333', 'right', 56));
// value tags
tag(py(0, emaLast), emaLast.toFixed(2), '#D6337F', '#D6337F', '#FFFFFF').forEach(e => gfx.push(e));
tag(py(0, lastPrice), lastPrice.toFixed(2), '#F2EBD6', '#9A9A9A', '#1A1A1A').forEach(e => gfx.push(e));
tag(py(1, skBaseline), String(skBaseline), '#808080', '#808080', '#111111').forEach(e => gfx.push(e));
tag(py(2, atrLast), String(atrLast), '#6C6CC8', '#6C6CC8', '#FFFFFF').forEach(e => gfx.push(e));
tag(py(3, erThreshold), erThreshold.toFixed(2), '#7C7C7C', '#7C7C7C', '#111111').forEach(e => gfx.push(e));
// F buttons
[[3058, 5], [3058, 1731], [3058, 1789], [3058, 1814]].forEach(p => {
  gfx.push({type:'rect', z:62, silent:true, shape:{x:p[0], y:p[1], width:14, height:15}, style:{fill:'#F2EEE2', stroke:'#A0A0A0', lineWidth:1}});
  gfx.push(txt(p[0] + 7, p[1] + 8, 'F', '10px ' + FONT, '#777777', 'center', 63));
});
chart.setOption({graphic: gfx});
</script>
